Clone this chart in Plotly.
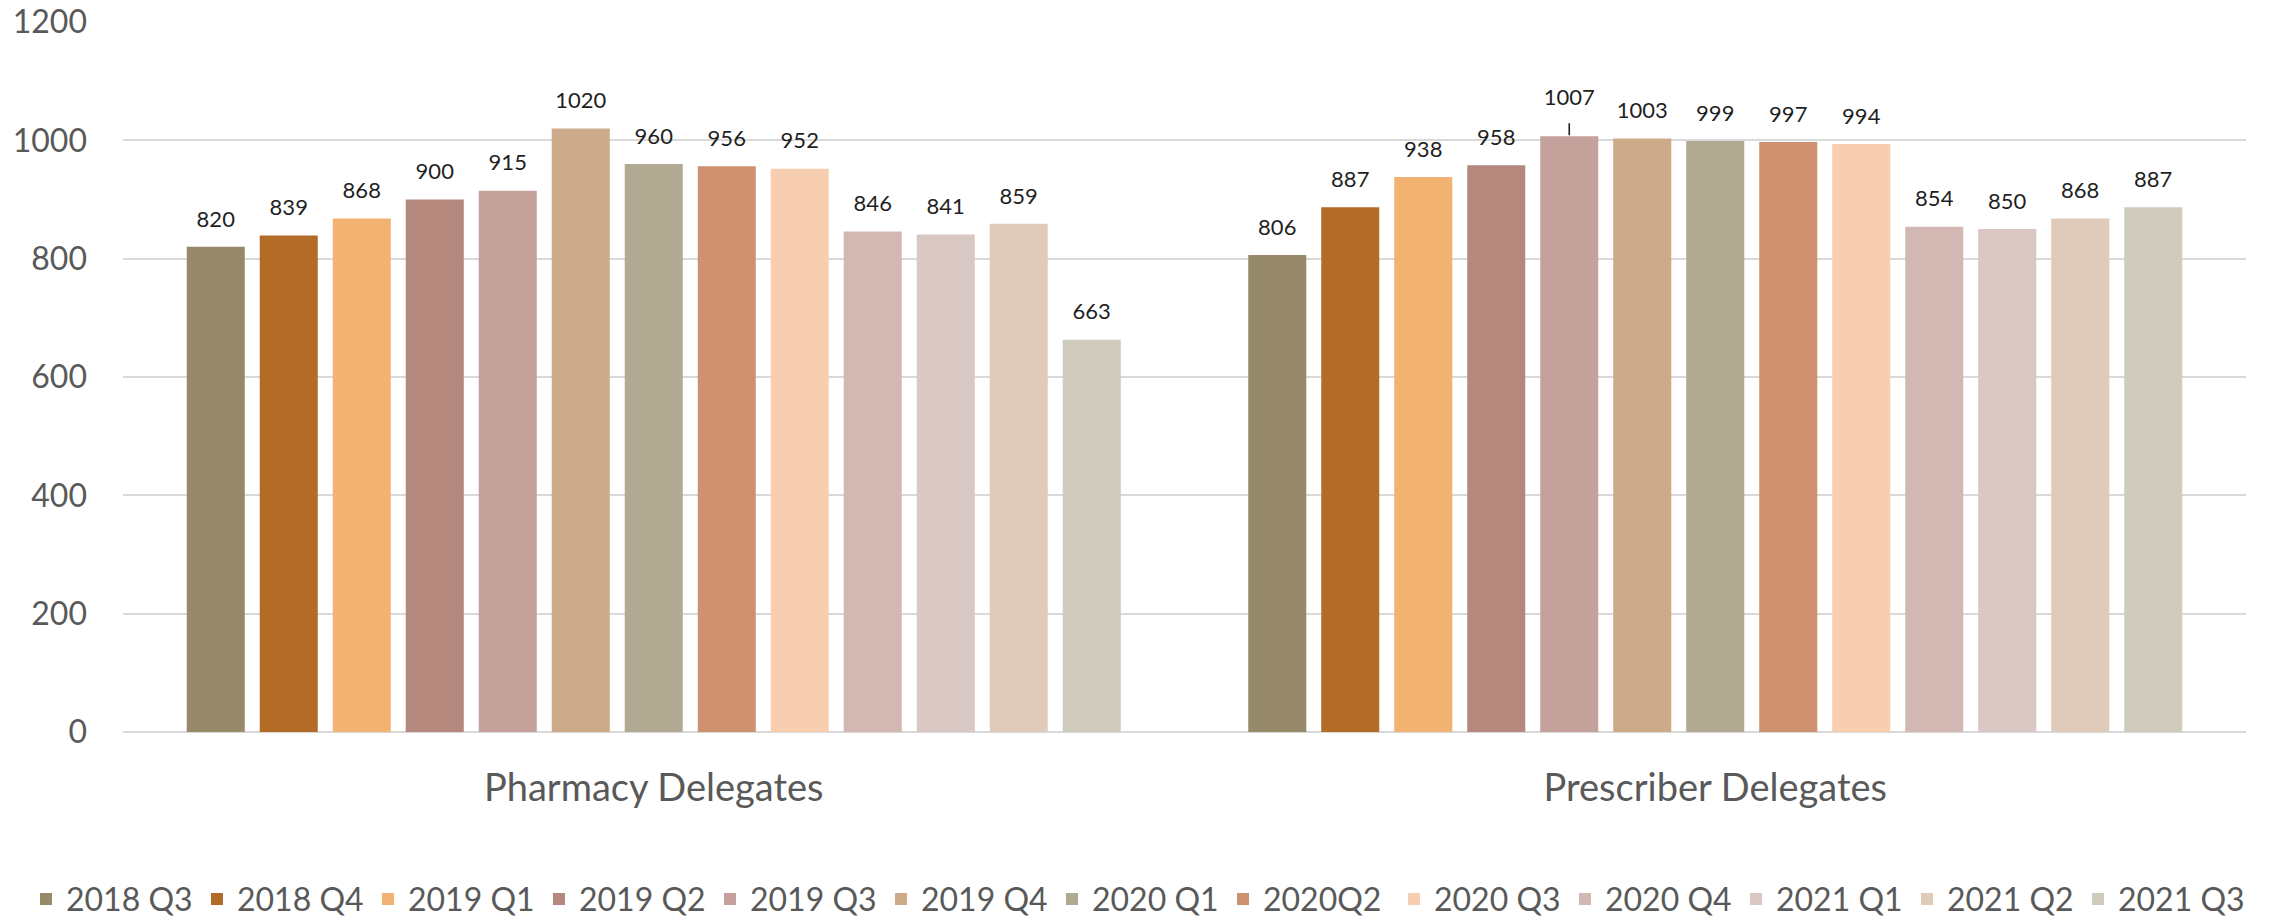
import plotly.graph_objects as go

categories = ["Pharmacy Delegates", "Prescriber Delegates"]
series_names = ["2018 Q3", "2018 Q4", "2019 Q1", "2019 Q2", "2019 Q3", "2019 Q4",
                "2020 Q1", "2020Q2", "2020 Q3", "2020 Q4", "2021 Q1", "2021 Q2", "2021 Q3"]
pharmacy = [820, 839, 868, 900, 915, 1020, 960, 956, 952, 846, 841, 859, 663]
prescriber = [806, 887, 938, 958, 1007, 1003, 999, 997, 994, 854, 850, 868, 887]
colors = ["#968A6B", "#B36C28", "#F2B271", "#B4887C", "#C4A19A", "#CDAA8A", "#B1A991",
          "#CD9170", "#F7CEAF", "#D2B7B3", "#D9C7C4", "#E0CBBA", "#CFCBBD"]

FONT = "Lato, Open Sans, sans-serif"
W, H = 2272, 917
ML, MR, MT, MB = 123, 26, 22, 185
BARGAP = 0.106

fig = go.Figure()
for i, name in enumerate(series_names):
    vals = [pharmacy[i], prescriber[i]]
    fig.add_trace(go.Bar(
        name=name, x=categories, y=vals, offsetgroup=str(i), alignmentgroup="g",
        marker=dict(color=colors[i], line=dict(width=0)),
        hoverinfo="skip",
    ))
# value labels, aligned with the bars through grouped scatter mode
leader_idx = prescriber.index(1007)
for i, name in enumerate(series_names):
    vals = [pharmacy[i], prescriber[i]]
    sizes = [22, 40 if i == leader_idx else 22]
    fig.add_trace(go.Scatter(
        x=categories, y=vals, text=[str(v) for v in vals], mode="markers+text",
        offsetgroup=str(i), alignmentgroup="g", showlegend=False,
        textposition="top center", cliponaxis=False,
        textfont=dict(size=22, color="#1f1f1f", family=FONT),
        marker=dict(size=sizes, opacity=0, color="rgba(0,0,0,0)"),
        hoverinfo="skip",
    ))

# leader line for the moved 1007 label
cat_w = (W - ML - MR) / len(categories)
slot = (1 - BARGAP) * cat_w / len(series_names)
fig.add_annotation(x=categories[1], y=prescriber[leader_idx], text=" ", font=dict(size=1),
                   xshift=(leader_idx - (len(series_names) - 1) / 2) * slot,
                   showarrow=True, arrowhead=0, arrowwidth=1.6, arrowcolor="#1f1f1f",
                   ax=0, ay=-15, standoff=1)

fig.update_layout(
    width=W, height=H,
    barmode="group", bargap=BARGAP, bargroupgap=0.205,
    scattermode="group", scattergap=BARGAP,
    plot_bgcolor="white", paper_bgcolor="white",
    margin=dict(l=ML, r=MR, t=MT, b=MB, autoexpand=False),
    font=dict(family=FONT, color="#595959"),
    showlegend=True,
    legend=dict(orientation="h", x=-0.0457, xanchor="left", y=-0.2355, yanchor="middle",
                font=dict(size=32, color="#595959", family=FONT),
                itemwidth=30, traceorder="normal", entrywidth=126, entrywidthmode="pixels"),
)
fig.update_yaxes(range=[0, 1200], dtick=200, showgrid=True, gridcolor="#D9D9D9", gridwidth=2,
                 zeroline=True, zerolinecolor="#D9D9D9", zerolinewidth=2, showline=False,
                 tickfont=dict(size=32, color="#595959", family=FONT), ticks="", ticklabelstandoff=35)
fig.update_xaxes(showline=False, ticks="", tickfont=dict(size=38, color="#595959", family=FONT),
                 ticklabelstandoff=30)

fig.write_html("out.html", config={"displayModeBar": False},
               post_script="document.body.style.margin='0';")
